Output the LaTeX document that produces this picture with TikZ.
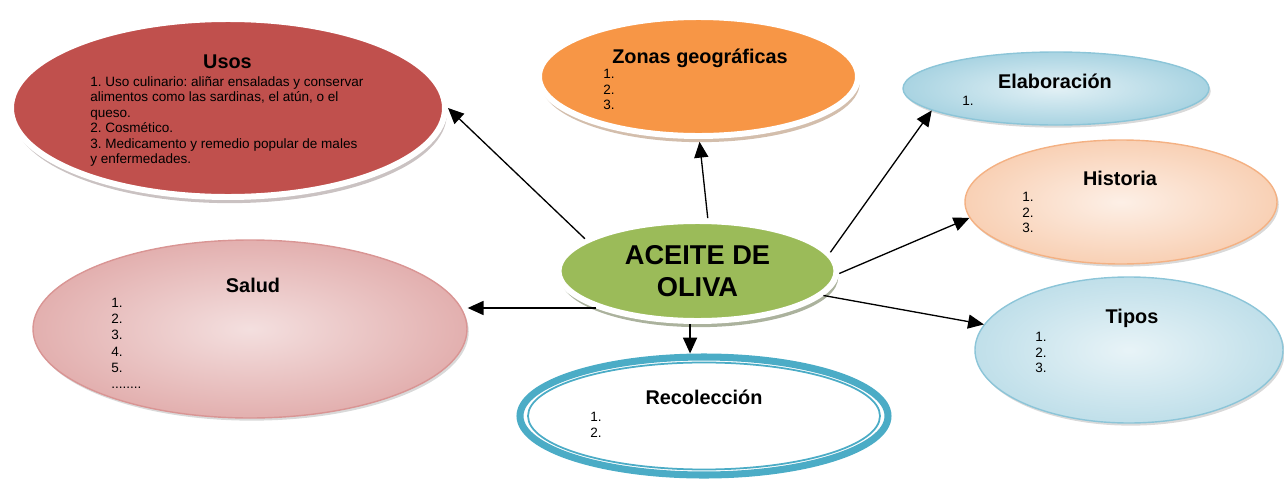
\documentclass[tikz,border=0pt]{standalone}
\usepackage{fontspec}
\setmainfont{Liberation Sans}
\frenchspacing
\usetikzlibrary{shapes.geometric,shadows,arrows.meta}
\definecolor{usosred}{HTML}{C0504D}
\definecolor{zonasorange}{HTML}{F79646}
\definecolor{olivegreen}{HTML}{9BBB59}
\definecolor{celeste}{HTML}{8CC5D8}
\definecolor{melocoton}{HTML}{F4B183}
\definecolor{rosa}{HTML}{D99594}
\definecolor{turquesa}{HTML}{4BACC6}

\begin{document}
\begin{tikzpicture}[scale=0.2]
\tikzstyle{every node}+=[inner sep=0pt]
\tikzstyle{globo}=[ellipse]
\tikzstyle{relieve}=[draw=white, line width=3.4pt]
\tikzstyle{titulo}=[anchor=base, font=\fontsize{11.3}{13}\selectfont\bfseries]
\tikzstyle{lista}=[anchor=north west, align=left, font=\fontsize{7.7}{8.8}\selectfont]
\tikzstyle{flecha}=[black, line width=0.75pt, -{Triangle[length=9pt,width=8pt]}]
\useasboundingbox (0,0) rectangle (128.4,-48.1);
\node [globo, relieve, fill=usosred, minimum width=8.68cm, minimum height=3.56cm, drop shadow={shadow xshift=1pt, shadow yshift=-3.5pt, fill=gray!85!usosred, opacity=0.45}] (usos) at (22.8,-10.8) {};
\node [globo, relieve, fill=zonasorange, minimum width=6.38cm, minimum height=2.38cm, drop shadow={shadow xshift=1pt, shadow yshift=-3.5pt, fill=gray!60!zonasorange, opacity=0.55}] (zonas) at (69.85,-7.65) {};
\node [globo, draw=celeste, line width=0.8pt, inner color=celeste!25, outer color=celeste!75, minimum width=6.12cm, minimum height=1.46cm, drop shadow={shadow xshift=1pt, shadow yshift=-1.5pt, fill=gray, opacity=0.3}] (elab) at (105.6,-8.85) {};
\node [globo, draw=melocoton, line width=0.8pt, inner color=melocoton!20, outer color=melocoton!60, minimum width=6.24cm, minimum height=2.48cm, drop shadow={shadow xshift=1pt, shadow yshift=-1.5pt, fill=gray, opacity=0.3}] (historia) at (112.1,-20.2) {};
\node [globo, draw=celeste, line width=0.8pt, inner color=celeste!20, outer color=celeste!55, minimum width=6.16cm, minimum height=2.92cm, drop shadow={shadow xshift=1pt, shadow yshift=-1.5pt, fill=gray, opacity=0.3}] (tipos) at (112.9,-35.0) {};
\node [globo, draw=rosa, line width=0.8pt, inner color=rosa!30, outer color=rosa!75, minimum width=8.68cm, minimum height=3.56cm, drop shadow={shadow xshift=1pt, shadow yshift=-1.5pt, fill=gray, opacity=0.3}] (salud) at (25.0,-32.9) {};
\node [globo, draw=turquesa, line width=4pt, fill=white, minimum width=7.36cm, minimum height=2.36cm] (recol) at (70.4,-41.6) {};
\draw [turquesa, line width=1pt] (recol.center) ellipse (17.6 and 5.35);
\node [globo, relieve, fill=olivegreen, align=center, minimum width=5.56cm, minimum height=2.0cm, font=\fontsize{15.5}{18}\selectfont\bfseries, drop shadow={shadow xshift=1pt, shadow yshift=-3.5pt, fill=gray!70!olivegreen, opacity=0.7}] (olive) at (69.75,-27.1) {ACEITE DE\\OLIVA};
\node [titulo] (usostitulo) at (22.75,-6.8) {Usos};
\node [lista] (usoslista) at (9.0,-7.6) {1. Uso culinario: aliñar ensaladas y conservar\\alimentos como las sardinas, el atún, o el\\queso.\\2. Cosmético.\\3. Medicamento y remedio popular de males\\y enfermedades.};
\node [titulo] (zonastitulo) at (70.0,-6.3) {Zonas geográficas};
\node [lista] (zonaslista) at (60.3,-6.9) {1.\\2.\\3.};
\node [titulo] (elabtitulo) at (105.5,-8.8) {Elaboración};
\node [lista] (elablista) at (96.2,-9.6) {1.};
\node [titulo] (historiatitulo) at (112.0,-18.5) {Historia};
\node [lista] (historialista) at (102.2,-19.2) {1.\\2.\\3.};
\node [titulo] (tipostitulo) at (113.2,-32.3) {Tipos};
\node [lista] (tiposlista) at (103.5,-33.2) {1.\\2.\\3.};
\node [titulo] (saludtitulo) at (25.3,-29.2) {Salud};
\node [lista, font=\fontsize{7.7}{9.2}\selectfont] (saludlista) at (11.1,-29.8) {1.\\2.\\3.\\4.\\5.\\........};
\node [titulo] (recoltitulo) at (70.4,-40.4) {Recolección};
\node [lista] (recollista) at (59.0,-41.2) {1.\\2.};
\draw [flecha] (olive.164) -- (usos.east);
\draw [flecha] (olive.79) -- ([xshift=3pt,yshift=-8pt]zonas.south);
\draw [flecha] (olive.8) -- (elab.190);
\draw [flecha] (olive.359) -- (historia.186);
\draw [flecha] (olive.349) -- (tipos.170);
\draw [flecha] (olive.200) -- (olive.200 -| salud.east);
\draw [flecha] (olive.262) -- (olive.262 |- recol.north);
\end{tikzpicture}
\end{document}
